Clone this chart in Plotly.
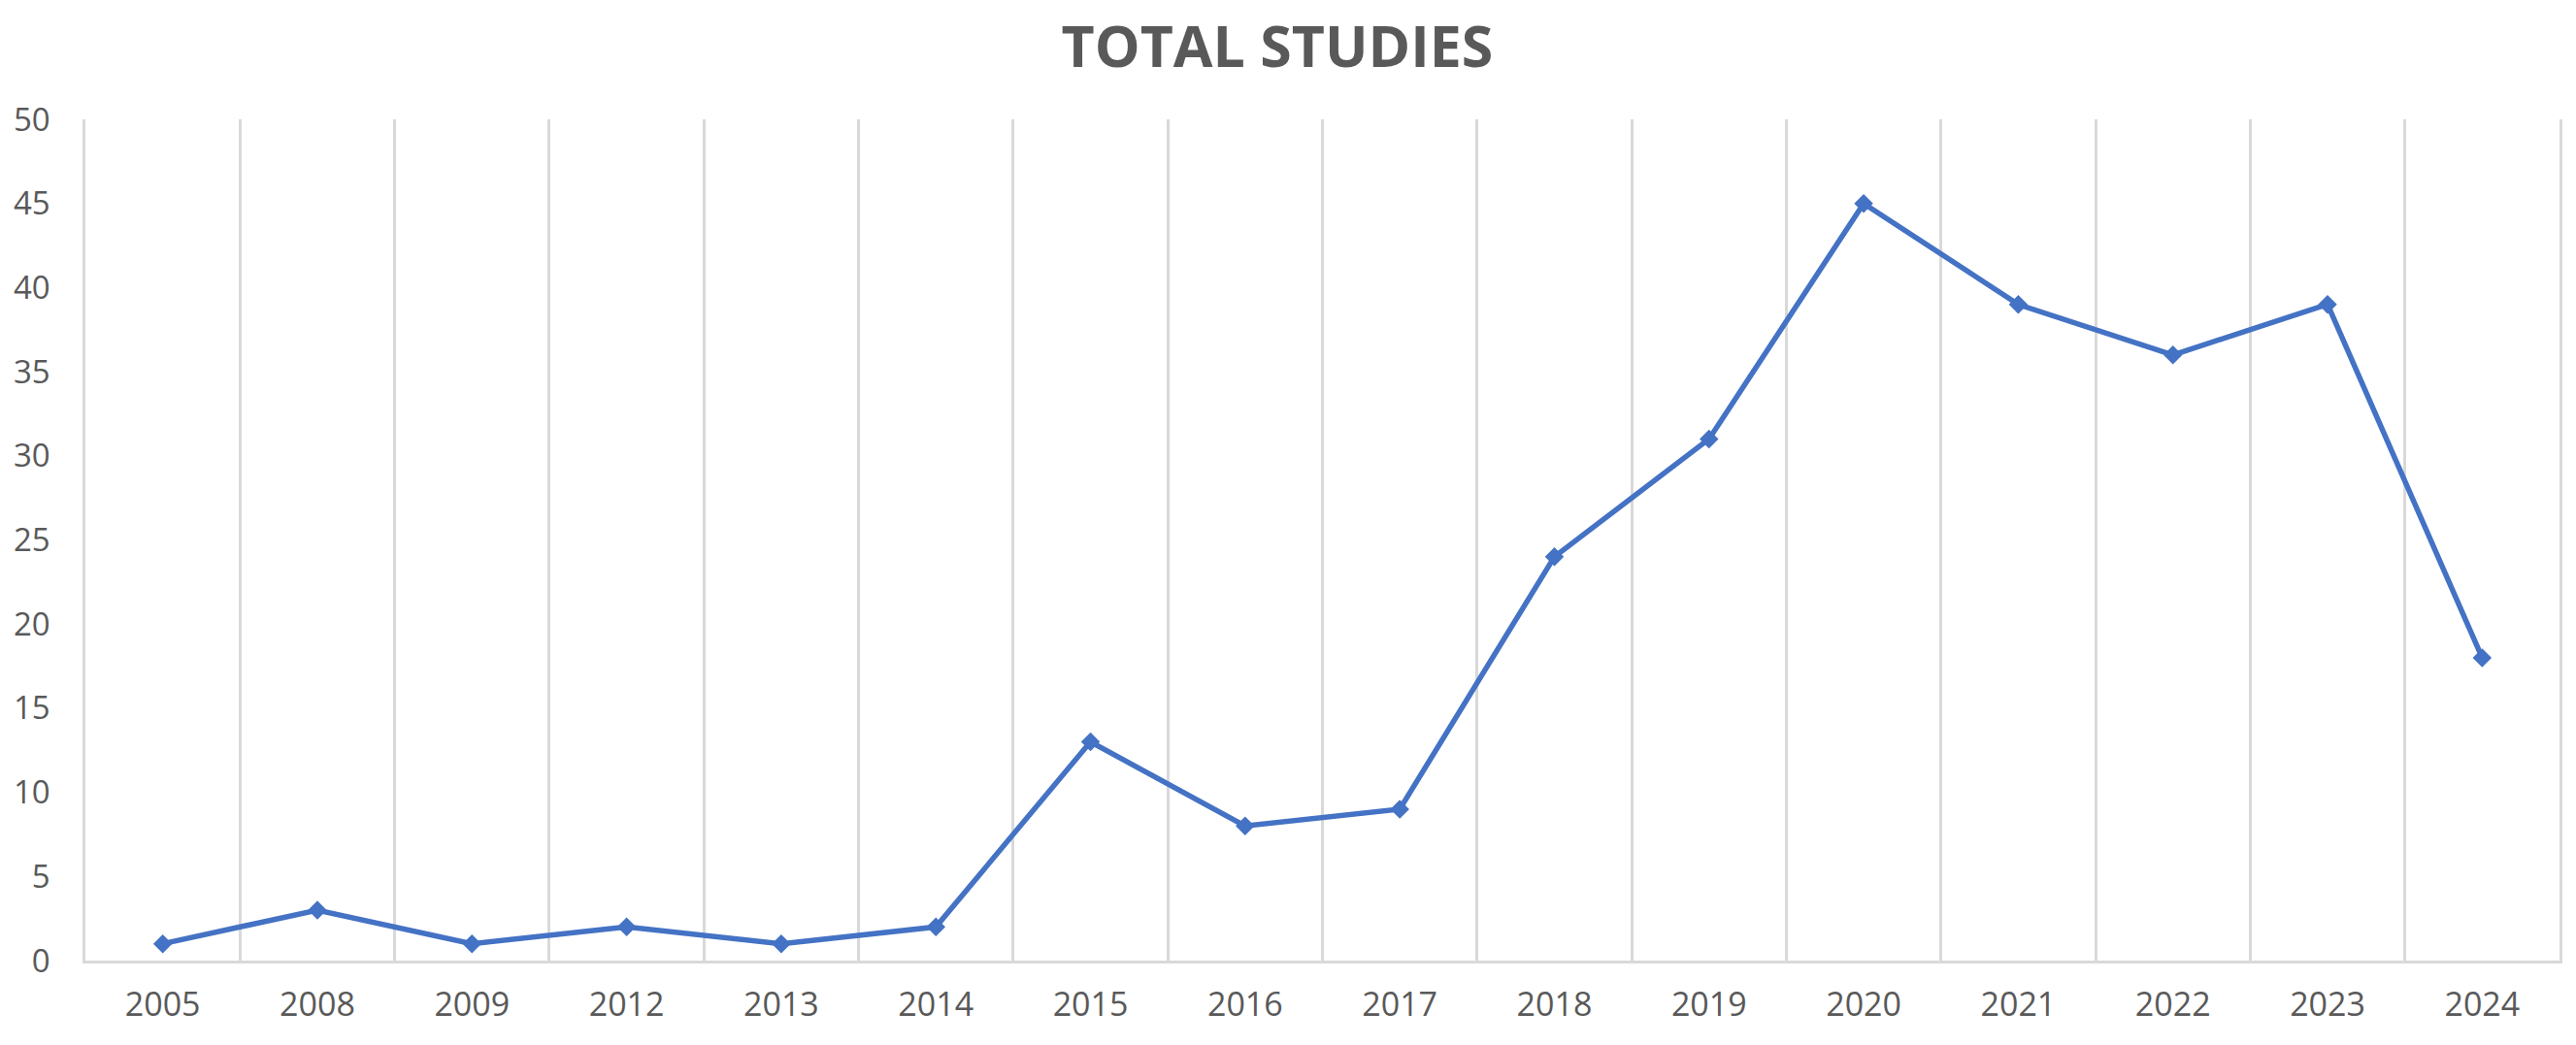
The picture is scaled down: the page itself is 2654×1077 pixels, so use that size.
import plotly.graph_objects as go

# Datos
years = ["2005", "2008", "2009", "2012", "2013", "2014", "2015", "2016",
         "2017", "2018", "2019", "2020", "2021", "2022", "2023", "2024"]
studies = [1, 3, 1, 2, 1, 2, 13, 8, 9, 24, 31, 45, 39, 36, 39, 18]
y_ticks = [0, 5, 10, 15, 20, 25, 30, 35, 40, 45, 50]

LINE_BLUE = "#4472C4"
GRID = "#D9D9D9"
TEXT = "#595959"

fig = go.Figure(
    go.Scatter(
        x=years,
        y=studies,
        mode="lines+markers",
        line=dict(color=LINE_BLUE, width=5.5),
        marker=dict(symbol="diamond", size=15, color=LINE_BLUE),
        showlegend=False,
    )
)

# la página tiene 8 px de margen en el body: se compensa en tamaño y márgenes
fig.update_layout(
    width=2646,
    height=1069,
    title=dict(
        text="<b>TOTAL STUDIES</b>",
        x=0.4943,
        xref="container",
        xanchor="center",
        y=0.962,
        yref="container",
        yanchor="middle",
        font=dict(family="Open Sans", size=59, color=TEXT),
    ),
    font=dict(family="Open Sans", color=TEXT),
    plot_bgcolor="white",
    paper_bgcolor="white",
    margin=dict(l=80, r=17, t=115, b=87),
)

fig.update_xaxes(
    type="category",
    range=[-0.5, len(years) - 0.5],
    tickson="boundaries",
    showgrid=True,
    gridcolor=GRID,
    gridwidth=2.5,
    showline=True,
    linecolor=GRID,
    linewidth=2.5,
    ticks="",
    tickfont=dict(size=34, color=TEXT),
    ticklabelstandoff=13,
    automargin=False,
)
fig.update_yaxes(
    range=[0, 50],
    tickvals=y_ticks,
    showgrid=False,
    zeroline=False,
    showline=True,
    mirror=True,
    linecolor=GRID,
    linewidth=2.5,
    ticks="",
    tickfont=dict(size=33, color=TEXT),
    ticklabelstandoff=27,
    automargin=False,
)

fig.write_html("out.html")
